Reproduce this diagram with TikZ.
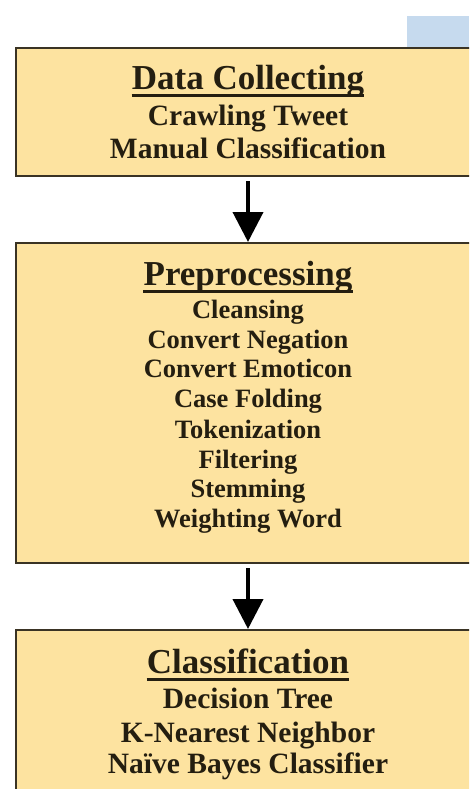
\documentclass[tikz,border=0pt]{standalone}
\usepackage{fontspec}
\setmainfont{Liberation Serif}
\usetikzlibrary{arrows.meta}
\definecolor{boxfill}{HTML}{FDE3A0}
\definecolor{boxline}{HTML}{3A3324}
\definecolor{inkcol}{HTML}{241E10}
\definecolor{tabblue}{HTML}{C6DAEE}
\begin{document}
\begin{tikzpicture}[x=1pt,y=-1pt,
  stagebox/.style={draw=boxline,fill=boxfill,line width=2pt,rectangle,
    minimum width=464pt,inner sep=0pt},
  headtext/.style={anchor=base,inner sep=0pt,text=inkcol,
    font=\fontsize{35}{40}\selectfont\bfseries},
  itemtext/.style={anchor=base,inner sep=0pt,text=inkcol,
    font=\fontsize{29.5}{33}\selectfont\bfseries},
  smallitem/.style={anchor=base,inner sep=0pt,text=inkcol,
    font=\fontsize{26.5}{30}\selectfont\bfseries},
  uline/.style={draw=inkcol,line width=3pt},
  flow/.style={draw=black,line width=4pt,shorten <=4pt,
    -{Triangle[width=30pt,length=30pt]}}]
\useasboundingbox (0,0) rectangle (469,789);
\clip (0,0) rectangle (469,789);
\fill[white] (0,0) rectangle (469,789);

% small blue tab behind the first stage
\fill[tabblue] (407,16) rectangle (469,48);

% stage boxes
\node[stagebox,minimum height=128pt] (collect) at (248,112) {};
\node[stagebox,minimum height=320pt] (prep) at (248,403) {};
\node[stagebox,minimum height=200pt] (classif) at (248,730) {};

% Data Collecting
\node[headtext] (h1) at (248,90) {Data Collecting};
\draw[uline] ([yshift=-6pt]h1.base west) -- ([yshift=-6pt]h1.base east);
\node[itemtext] (c1) at (248,125) {Crawling Tweet};
\node[itemtext] (c2) at (248,158) {Manual Classification};

% Preprocessing
\node[headtext] (h2) at (248,285) {Preprocessing};
\draw[uline] ([yshift=-6pt]h2.base west) -- ([yshift=-6pt]h2.base east);
\node[smallitem] (p1) at (248,318) {Cleansing};
\node[smallitem] (p2) at (248,348) {Convert Negation};
\node[smallitem] (p3) at (248,377) {Convert Emoticon};
\node[smallitem] (p4) at (248,407) {Case Folding};
\node[smallitem] (p5) at (248,438) {Tokenization};
\node[smallitem] (p6) at (248,468) {Filtering};
\node[smallitem] (p7) at (248,497) {Stemming};
\node[smallitem] (p8) at (248,527) {Weighting Word};

% Classification
\node[headtext] (h3) at (248,673) {Classification};
\draw[uline] ([yshift=-6pt]h3.base west) -- ([yshift=-6pt]h3.base east);
\node[itemtext] (k1) at (248,708) {Decision Tree};
\node[itemtext] (k2) at (248,742) {K-Nearest Neighbor};
\node[itemtext] (k3) at (248,773) {Naïve Bayes Classifier};

% flow between stages
\draw[flow] (collect.south) -- (prep.north);
\draw[flow] (prep.south) -- (classif.north);
\end{tikzpicture}
\end{document}
